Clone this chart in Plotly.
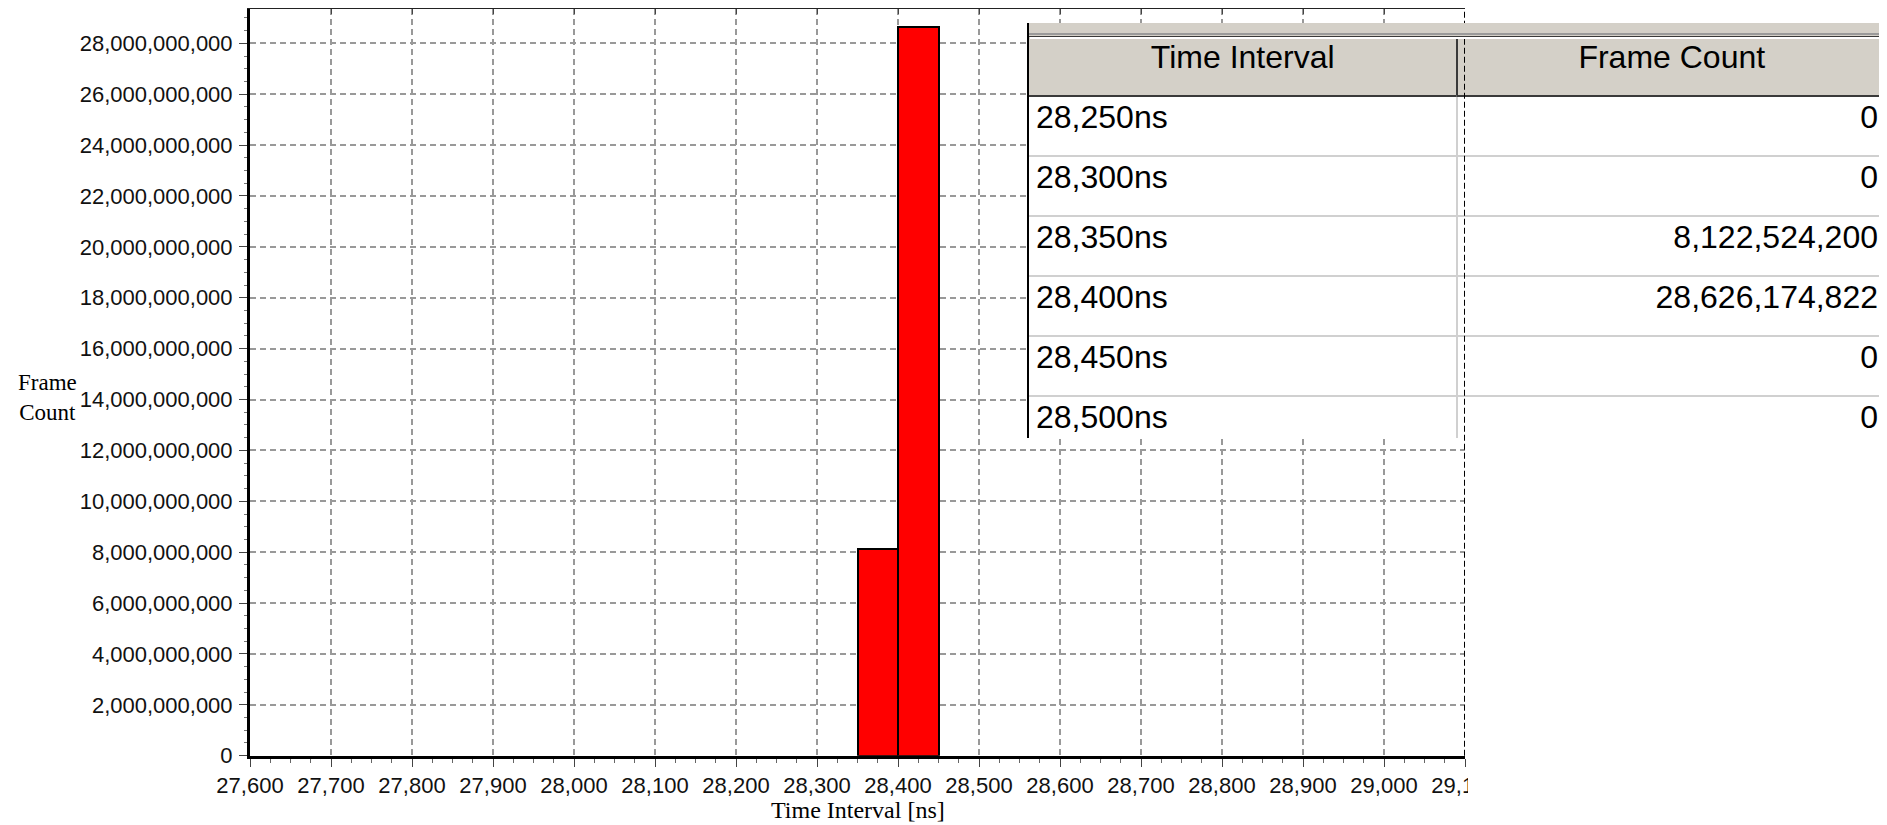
import plotly.graph_objects as go

# ---- data ----
bin_start_ns = [28250, 28300, 28350, 28400, 28450, 28500]
frame_counts = [0, 0, 8122524200, 28626174822, 0, 0]
interval_labels = ["28,250ns", "28,300ns", "28,350ns", "28,400ns", "28,450ns", "28,500ns"]
count_labels = ["0", "0", "8,122,524,200", "28,626,174,822", "0", "0"]
table_headers = ["Time Interval", "Frame Count"]
bin_width_ns = 50
x_range = [27600, 29100]
y_range = [0, 29.35e9]

# The page body adds an 8px margin, so the figure is made 8px smaller and
# reference pixel positions are shifted by that amount.
OFF = 8
W, H = 1887 - OFF, 825 - OFF


def px(x):  # reference x pixel -> paper fraction
    return (x - OFF) / W


def py(y):  # reference y pixel (from top) -> paper fraction
    return (H - (y - OFF)) / H


PL, PR, PT, PB = 250, 1465, 9, 755.7
xdom = [px(PL), px(PR)]
ydom = [py(PB), py(PT)]

tick_font = dict(family="Liberation Sans, Arial, sans-serif", size=22, color="#111111")
serif = "Liberation Serif, Times New Roman, serif"
narrow = "Liberation Sans Narrow, Arial Narrow, Liberation Sans, Arial, sans-serif"

fig = go.Figure()

fig.add_trace(go.Bar(
    x=bin_start_ns, y=frame_counts, width=bin_width_ns, offset=0,
    marker=dict(color="#FF0000",
                line=dict(color="#000000", width=[2 if v > 0 else 0 for v in frame_counts])),
    showlegend=False, hoverinfo="x+y",
))
# dummy trace to bind the top (mirror) axis
fig.add_trace(go.Scatter(x=[], y=[], xaxis="x2", showlegend=False))

# table
tab_left = 1028
fig.add_trace(go.Table(
    domain=dict(x=[px(tab_left), 1.0], y=[py(438), py(36)]),
    columnwidth=[430, 429],
    header=dict(
        values=table_headers,
        fill_color="#D4D0C8",
        line=dict(color="#3A3A3A", width=2),
        align="center",
        height=60,
        font=dict(family=narrow, size=32, color="#000000"),
    ),
    cells=dict(
        values=[interval_labels, count_labels],
        fill_color="#FFFFFF",
        line=dict(color="#D0D0D0", width=2),
        align=["left", "right"],
        height=60,
        font=dict(family=narrow, size=32, color="#000000"),
    ),
))

axis_common = dict(showgrid=True, gridcolor="#999999", gridwidth=1.5, griddash="6px,4px",
                   zeroline=False, showline=True, linecolor="#000000", linewidth=3,
                   ticks="outside", ticklen=8, tickwidth=1, tickcolor="#444444",
                   tickfont=tick_font, automargin=False)

fig.update_layout(
    width=W, height=H,
    margin=dict(l=0, r=0, t=0, b=0, pad=0),
    paper_bgcolor="#FFFFFF", plot_bgcolor="#FFFFFF",
    bargap=0,
    xaxis=dict(domain=xdom, range=x_range, tick0=27600, dtick=100, tickformat=",d",
               minor=dict(dtick=25, ticks="outside", ticklen=4, tickcolor="#666666", showgrid=False),
               anchor="y", **axis_common),
    xaxis2=dict(domain=xdom, range=x_range, overlaying="x", side="top", anchor="y",
                tick0=27600, dtick=100, ticks="inside", ticklen=5, tickcolor="#444444",
                showticklabels=False, showgrid=False, zeroline=False, automargin=False,
                showline=True, linecolor="#222222", linewidth=1.5),
    yaxis=dict(domain=ydom, range=y_range, tick0=0, dtick=2e9, tickformat=",d",
               minor=dict(dtick=5e8, ticks="outside", ticklen=3, tickcolor="#777777", showgrid=False),
               anchor="x", ticklabelstandoff=2, **axis_common),
    shapes=[
        # dashed right frame edge
        dict(type="line", xref="x", yref="paper", x0=x_range[1], x1=x_range[1],
             y0=ydom[0], y1=ydom[1], line=dict(color="#000000", width=2, dash="6px,3px")),
        # the chart control clips the last tick label at its right edge
        dict(type="rect", xref="paper", yref="paper", x0=px(PR + 3), x1=px(PR + 60),
             y0=py(805), y1=py(765), fillcolor="#FFFFFF", line=dict(width=0)),
        # list view frame band above the header
        dict(type="rect", xref="paper", yref="paper", x0=px(tab_left), x1=1.0,
             y0=py(36), y1=py(23), fillcolor="#D4D0C8", line=dict(width=0)),
        dict(type="line", xref="paper", yref="paper", x0=px(tab_left), x1=1.0,
             y0=py(34), y1=py(34), line=dict(color="#9A9A9A", width=2)),
        # header highlight
        dict(type="line", xref="paper", yref="paper", x0=px(tab_left + 2), x1=1.0,
             y0=py(38), y1=py(38), line=dict(color="#FFFFFF", width=2)),
        # table left border
        dict(type="line", xref="paper", yref="paper", x0=px(tab_left), x1=px(tab_left),
             y0=py(438), y1=py(23), line=dict(color="#000000", width=2)),
    ],
    annotations=[
        dict(text="Frame<br>Count", xref="paper", yref="paper", x=px(47), y=py(397),
             showarrow=False, xanchor="center", yanchor="middle",
             font=dict(family=serif, size=23, color="#000000")),
        dict(text="Time Interval [ns]", xref="paper", yref="paper", x=px((PL + PR) / 2),
             y=py(810), showarrow=False, xanchor="center", yanchor="middle",
             font=dict(family=serif, size=24, color="#000000")),
    ],
)

fig.write_html("out.html")
